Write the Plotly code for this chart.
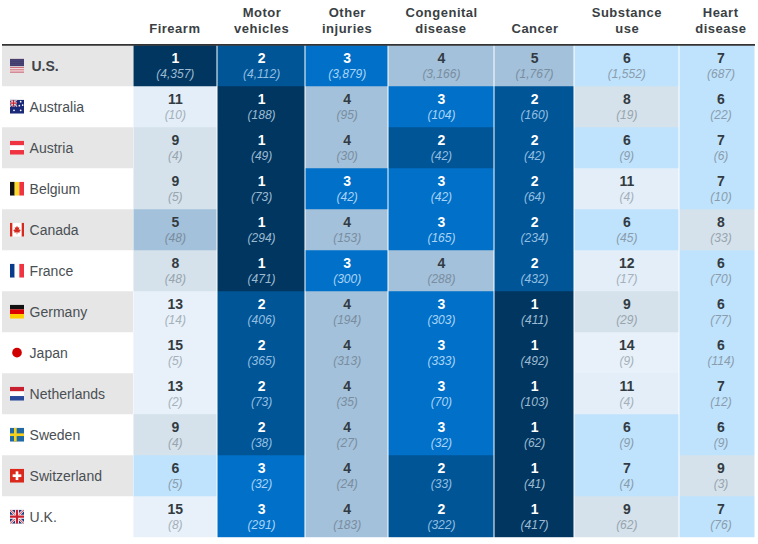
import base64
import plotly.graph_objects as go

countries = ["U.S.", "Australia", "Austria", "Belgium", "Canada", "France", "Germany",
             "Japan", "Netherlands", "Sweden", "Switzerland", "U.K."]
header_lines = [["Firearm"], ["Motor", "vehicles"], ["Other", "injuries"], ["Congenital", "disease"],
                ["Cancer"], ["Substance", "use"], ["Heart", "disease"]]
ranks = [
    [1, 2, 3, 4, 5, 6, 7],
    [11, 1, 4, 3, 2, 8, 6],
    [9, 1, 4, 2, 2, 6, 7],
    [9, 1, 3, 3, 2, 11, 7],
    [5, 1, 4, 3, 2, 6, 8],
    [8, 1, 3, 4, 2, 12, 6],
    [13, 2, 4, 3, 1, 9, 6],
    [15, 2, 4, 3, 1, 14, 6],
    [13, 2, 4, 3, 1, 11, 7],
    [9, 2, 4, 3, 1, 6, 6],
    [6, 3, 4, 2, 1, 7, 9],
    [15, 3, 4, 2, 1, 9, 7],
]
deaths = [
    [4357, 4112, 3879, 3166, 1767, 1552, 687],
    [10, 188, 95, 104, 160, 19, 22],
    [4, 49, 30, 42, 42, 9, 6],
    [5, 73, 42, 42, 64, 4, 10],
    [48, 294, 153, 165, 234, 45, 33],
    [48, 471, 300, 288, 432, 17, 70],
    [14, 406, 194, 303, 411, 29, 77],
    [5, 365, 313, 333, 492, 9, 114],
    [2, 73, 35, 70, 103, 4, 12],
    [4, 38, 27, 32, 62, 9, 9],
    [5, 32, 24, 33, 41, 4, 3],
    [8, 291, 183, 322, 417, 62, 76],
]

# layout constants (pixels)
W, H = 758, 544
TOP = 45.2
ROW_H = 41.0
X0, X_LABEL_END = 2, 133
EDGES = [133.5, 217.5, 305.5, 388.5, 494.5, 574.5, 679.5, 755.5]
CENTERS = [175.3, 261.6, 347.2, 441.4, 534.6, 626.8, 721.0]


def rv(py):
    """pixel y -> row-unit y"""
    return (py - TOP) / ROW_H - 0.5


RANK_COLORS = {1: "#00365F", 2: "#005596", 3: "#0070C8", 4: "#A3C1DA", 5: "#A3C1DA",
               6: "#BFE3FD", 7: "#BFE3FD", 8: "#D5E2EB", 9: "#D5E2EB", 10: "#D5E2EB",
               11: "#E3EEF8", 12: "#E3EEF8", 13: "#E8F1F9", 14: "#E8F1F9", 15: "#E8F1F9"}
colorscale = []
for r in range(1, 16):
    colorscale.append([(r - 1) / 15, RANK_COLORS[r]])
    colorscale.append([r / 15, RANK_COLORS[r]])

fig = go.Figure()
fig.add_trace(go.Heatmap(x=EDGES, y=list(range(len(countries))), z=ranks, zmin=0.5, zmax=15.5,
                         colorscale=colorscale, showscale=False, xgap=1, ygap=0, hoverinfo="skip"))

rx, ry, rt, rc, cx, cy, ct, cc = [], [], [], [], [], [], [], []
PAREN = {1: "#9DBAD3", 2: "#93BFE2", 3: "#A9D4F6", 4: "#7A8DA0", 5: "#7A8DA0",
         6: "#8A9CAC", 7: "#8A9CAC", 8: "#98A4AE", 9: "#98A4AE"}
for i, row in enumerate(ranks):
    for j, r in enumerate(row):
        dark = r <= 3
        rx.append(CENTERS[j]); ry.append(i - 6.0 / ROW_H); rt.append(str(r))
        rc.append("#FFFFFF" if dark else "#333B42")
        cx.append(CENTERS[j]); cy.append(i + 9.1 / ROW_H); ct.append(f"({deaths[i][j]:,})")
        cc.append(PAREN.get(r, "#A5B0BA"))

fig.add_trace(go.Scatter(x=rx, y=ry, text=rt, mode="text", hoverinfo="skip", showlegend=False,
                         textfont=dict(family="Liberation Sans", size=14, weight="bold", color=rc)))
fig.add_trace(go.Scatter(x=cx, y=cy, text=ct, mode="text", hoverinfo="skip", showlegend=False,
                         textfont=dict(family="Liberation Sans", size=12, style="italic", color=cc)))

# country labels
LABEL_DY = 1.3 / ROW_H
fig.add_trace(go.Scatter(x=[31.5], y=[LABEL_DY], text=[countries[0]], mode="text", textposition="middle right",
                         hoverinfo="skip", showlegend=False, cliponaxis=False,
                         textfont=dict(family="Liberation Sans", size=14, weight="bold", color="#3E444A")))
fig.add_trace(go.Scatter(x=[29.6] * 11, y=[i + LABEL_DY for i in range(1, 12)], text=countries[1:], mode="text",
                         textposition="middle right", hoverinfo="skip", showlegend=False,
                         textfont=dict(family="Liberation Sans", size=14, color="#4A4F54")))

# headers
annotations = []
for j, lines in enumerate(header_lines):
    ys = [28] if len(lines) == 1 else [12, 28]
    for txt, py in zip(lines, ys):
        annotations.append(dict(x=CENTERS[j], y=rv(py), text=txt, showarrow=False, xref="x", yref="y",
                                font=dict(family="Liberation Sans", size=13, color="#3A3F44", weight="bold")))

shapes = []
for i in range(0, len(countries), 2):
    shapes.append(dict(type="rect", x0=X0, x1=X_LABEL_END, y0=i - 0.5, y1=i + 0.5, layer="below",
                       fillcolor="#E6E6E6", line_width=0, xref="x", yref="y"))
shapes.append(dict(type="rect", x0=X0, x1=755, y0=rv(44), y1=rv(TOP + 0.6), fillcolor="#333333",
                   line_width=0, xref="x", yref="y"))


def svg(body):
    s = f'<svg xmlns="http://www.w3.org/2000/svg" width="42" height="42" viewBox="0 0 42 42">{body}</svg>'
    return "data:image/svg+xml;base64," + base64.b64encode(s.encode()).decode()


def bars_v(*c):
    w = 42 / len(c)
    return "".join(f'<rect x="{i*w}" y="0" width="{w}" height="42" fill="{k}"/>' for i, k in enumerate(c))


def bars_h(*c):
    w = 42 / len(c)
    return "".join(f'<rect x="0" y="{i*w}" width="42" height="{w}" fill="{k}"/>' for i, k in enumerate(c))


uj = ('<rect width="42" height="42" fill="#1F3A7A"/>'
      '<path d="M0 0L42 42M42 0L0 42" stroke="#fff" stroke-width="7"/>'
      '<path d="M0 0L42 42M42 0L0 42" stroke="#C8202F" stroke-width="3"/>'
      '<path d="M21 0V42M0 21H42" stroke="#fff" stroke-width="12"/>'
      '<path d="M21 0V42M0 21H42" stroke="#C8202F" stroke-width="7"/>')
us = "".join(f'<rect y="{i*3.23}" width="42" height="3.23" fill="{"#C23B4B" if i % 2 == 0 else "#fff"}"/>' for i in range(13))
us += '<rect width="42" height="22.6" fill="#3C3B6E" opacity="0.95"/>'
aus = ('<rect width="42" height="42" fill="#1B2A78"/><g transform="scale(0.5)">' + uj + '</g>'
       + "".join(f'<circle cx="{x}" cy="{y}" r="2.6" fill="#fff"/>' for x, y in
                 [(12, 32), (32, 6), (38, 16), (28, 18), (32, 32)]))
flags = [
    us,
    aus,
    bars_h("#EF3340", "#fff", "#EF3340"),
    bars_v("#111", "#FDDA24", "#EF3340"),
    '<rect width="42" height="42" fill="#fff"/><rect x="0" width="7" height="42" fill="#D52B1E"/>'
    '<rect x="35" width="7" height="42" fill="#D52B1E"/>'
    '<path d="M21 9L24 15L28 13L26 22L30 20L32 24L28 27L29 30L22 29V35H20V29L13 30L14 27L10 24L12 20L16 22L14 13L18 15Z" fill="#D52B1E"/>',
    bars_v("#0A3A8C", "#fff", "#EF3340"),
    bars_h("#111", "#DD0000", "#FFCE00"),
    '<circle cx="21" cy="21" r="14.5" fill="#D00000"/>',
    bars_h("#C8202F", "#fff", "#2A4B9B"),
    '<rect width="42" height="42" fill="#1F6AA5"/><rect x="12" width="8" height="42" fill="#F7CF1D"/>'
    '<rect y="17" width="42" height="8" fill="#F7CF1D"/>',
    '<rect width="42" height="42" fill="#DA291C"/><rect x="17" y="8" width="8" height="26" fill="#fff"/>'
    '<rect x="8" y="17" width="26" height="8" fill="#fff"/>',
    uj,
]
images = [dict(source=svg(f), xref="x", yref="y", x=10, y=i, sizex=14, sizey=14 / ROW_H,
               sizing="stretch", xanchor="left", yanchor="middle", layer="above")
          for i, f in enumerate(flags)]

fig.update_layout(
    width=W, height=H, margin=dict(l=0, r=0, t=0, b=0), autosize=False,
    paper_bgcolor="#FFFFFF", plot_bgcolor="#FFFFFF", showlegend=False,
    xaxis=dict(range=[0, W], visible=False, fixedrange=True),
    yaxis=dict(range=[rv(H), rv(0)], visible=False, fixedrange=True),
    shapes=shapes, annotations=annotations, images=images,
)
post = ("document.body.style.margin='0';document.body.style.overflow='hidden';"
        "var s=document.createElement('style');s.textContent='.annotation-text{letter-spacing:.5px}';"
        "document.head.appendChild(s);")
fig.write_html("out.html", post_script=post, config={"displayModeBar": False})
